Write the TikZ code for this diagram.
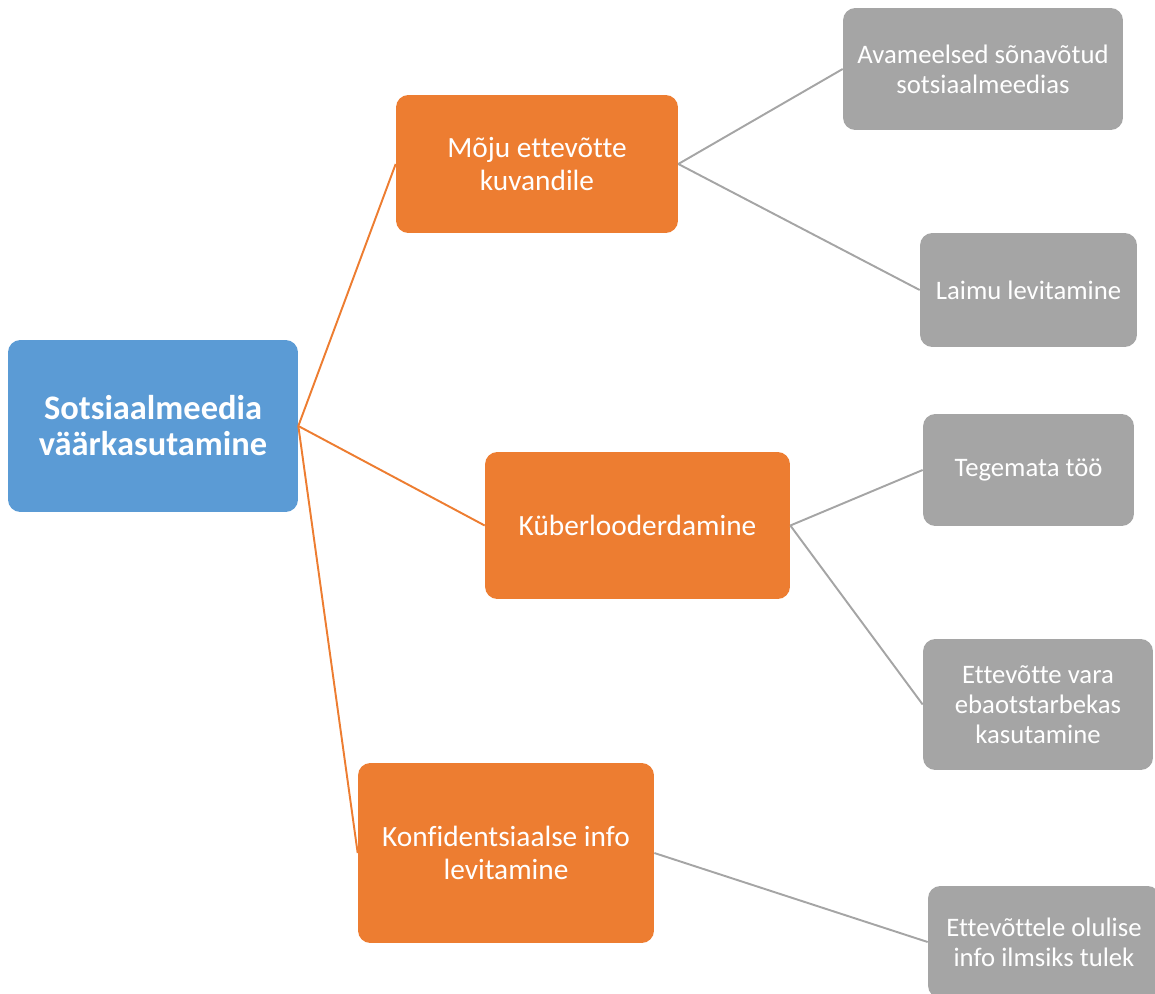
\documentclass[tikz,border=0pt]{standalone}
\usepackage{fontspec}
\setmainfont{Carlito}[Ligatures = NoCommon]
\usepackage{tikz}

\definecolor{rootblue}{HTML}{5B9BD5}
\definecolor{midorange}{HTML}{ED7D31}
\definecolor{leafgray}{HTML}{A5A5A5}

\tikzset{
    rootbox/.style = {rectangle, rounded corners = 7pt, fill = rootblue, text = white, align = center,
                      font = \fontsize{19.6}{20.5}\selectfont\bfseries, inner sep = 0pt},
    midbox/.style = {rectangle, rounded corners = 7pt, fill = midorange, text = white, align = center,
                     font = \fontsize{16.7}{18.8}\selectfont, inner sep = 0pt},
    leafbox/.style = {rectangle, rounded corners = 7pt, fill = leafgray, text = white, align = center,
                      font = \fontsize{15.2}{17}\selectfont, inner sep = 0pt},
    midline/.style = {draw = midorange, line width = 1.1pt},
    leafline/.style = {draw = leafgray, line width = 1.1pt}
}

\begin{document}
\begin{tikzpicture}[x = 0.02cm, y = -0.02cm]

    \useasboundingbox (0, 0) rectangle (1155, 993);

    % root
    \node[rootbox, minimum width = 5.8cm, minimum height = 3.44cm] (root) at (153, 426) {Sotsiaalmeedia\\väärkasutamine};

    % second level
    \node[midbox, minimum width = 5.64cm, minimum height = 2.76cm] (moju) at (537, 164) {Mõju ettevõtte\\kuvandile};
    \node[midbox, minimum width = 6.1cm, minimum height = 2.94cm] (kuber) at (637.5, 525.5) {Küberlooderdamine};
    \node[midbox, minimum width = 5.92cm, minimum height = 3.6cm] (konf) at (506, 853) {Konfidentsiaalse info\\levitamine};

    % leaves
    \node[leafbox, minimum width = 5.6cm, minimum height = 2.44cm] (avam) at (983, 69) {Avameelsed sõnavõtud\\sotsiaalmeedias};
    \node[leafbox, minimum width = 4.34cm, minimum height = 2.28cm] (laim) at (1028.5, 290) {Laimu levitamine};
    \node[leafbox, minimum width = 4.22cm, minimum height = 2.24cm] (tegem) at (1028.5, 470) {Tegemata töö};
    \node[leafbox, minimum width = 4.6cm, minimum height = 2.62cm] (vara) at (1038, 704.5) {Ettevõtte vara\\ebaotstarbekas\\kasutamine};
    \node[leafbox, minimum width = 4.64cm, minimum height = 2.24cm] (ilmsiks) at (1044, 942) {Ettevõttele olulise\\info ilmsiks tulek};

    \path[midline] (root.east) -- (moju.west);
    \path[midline] (root.east) -- (kuber.west);
    \path[midline] (root.east) -- (konf.west);

    \path[leafline] (moju.east) -- (avam.west);
    \path[leafline] (moju.east) -- (laim.west);
    \path[leafline] (kuber.east) -- (tegem.west);
    \path[leafline] (kuber.east) -- (vara.west);
    \path[leafline] (konf.east) -- (ilmsiks.west);

\end{tikzpicture}
\end{document}
